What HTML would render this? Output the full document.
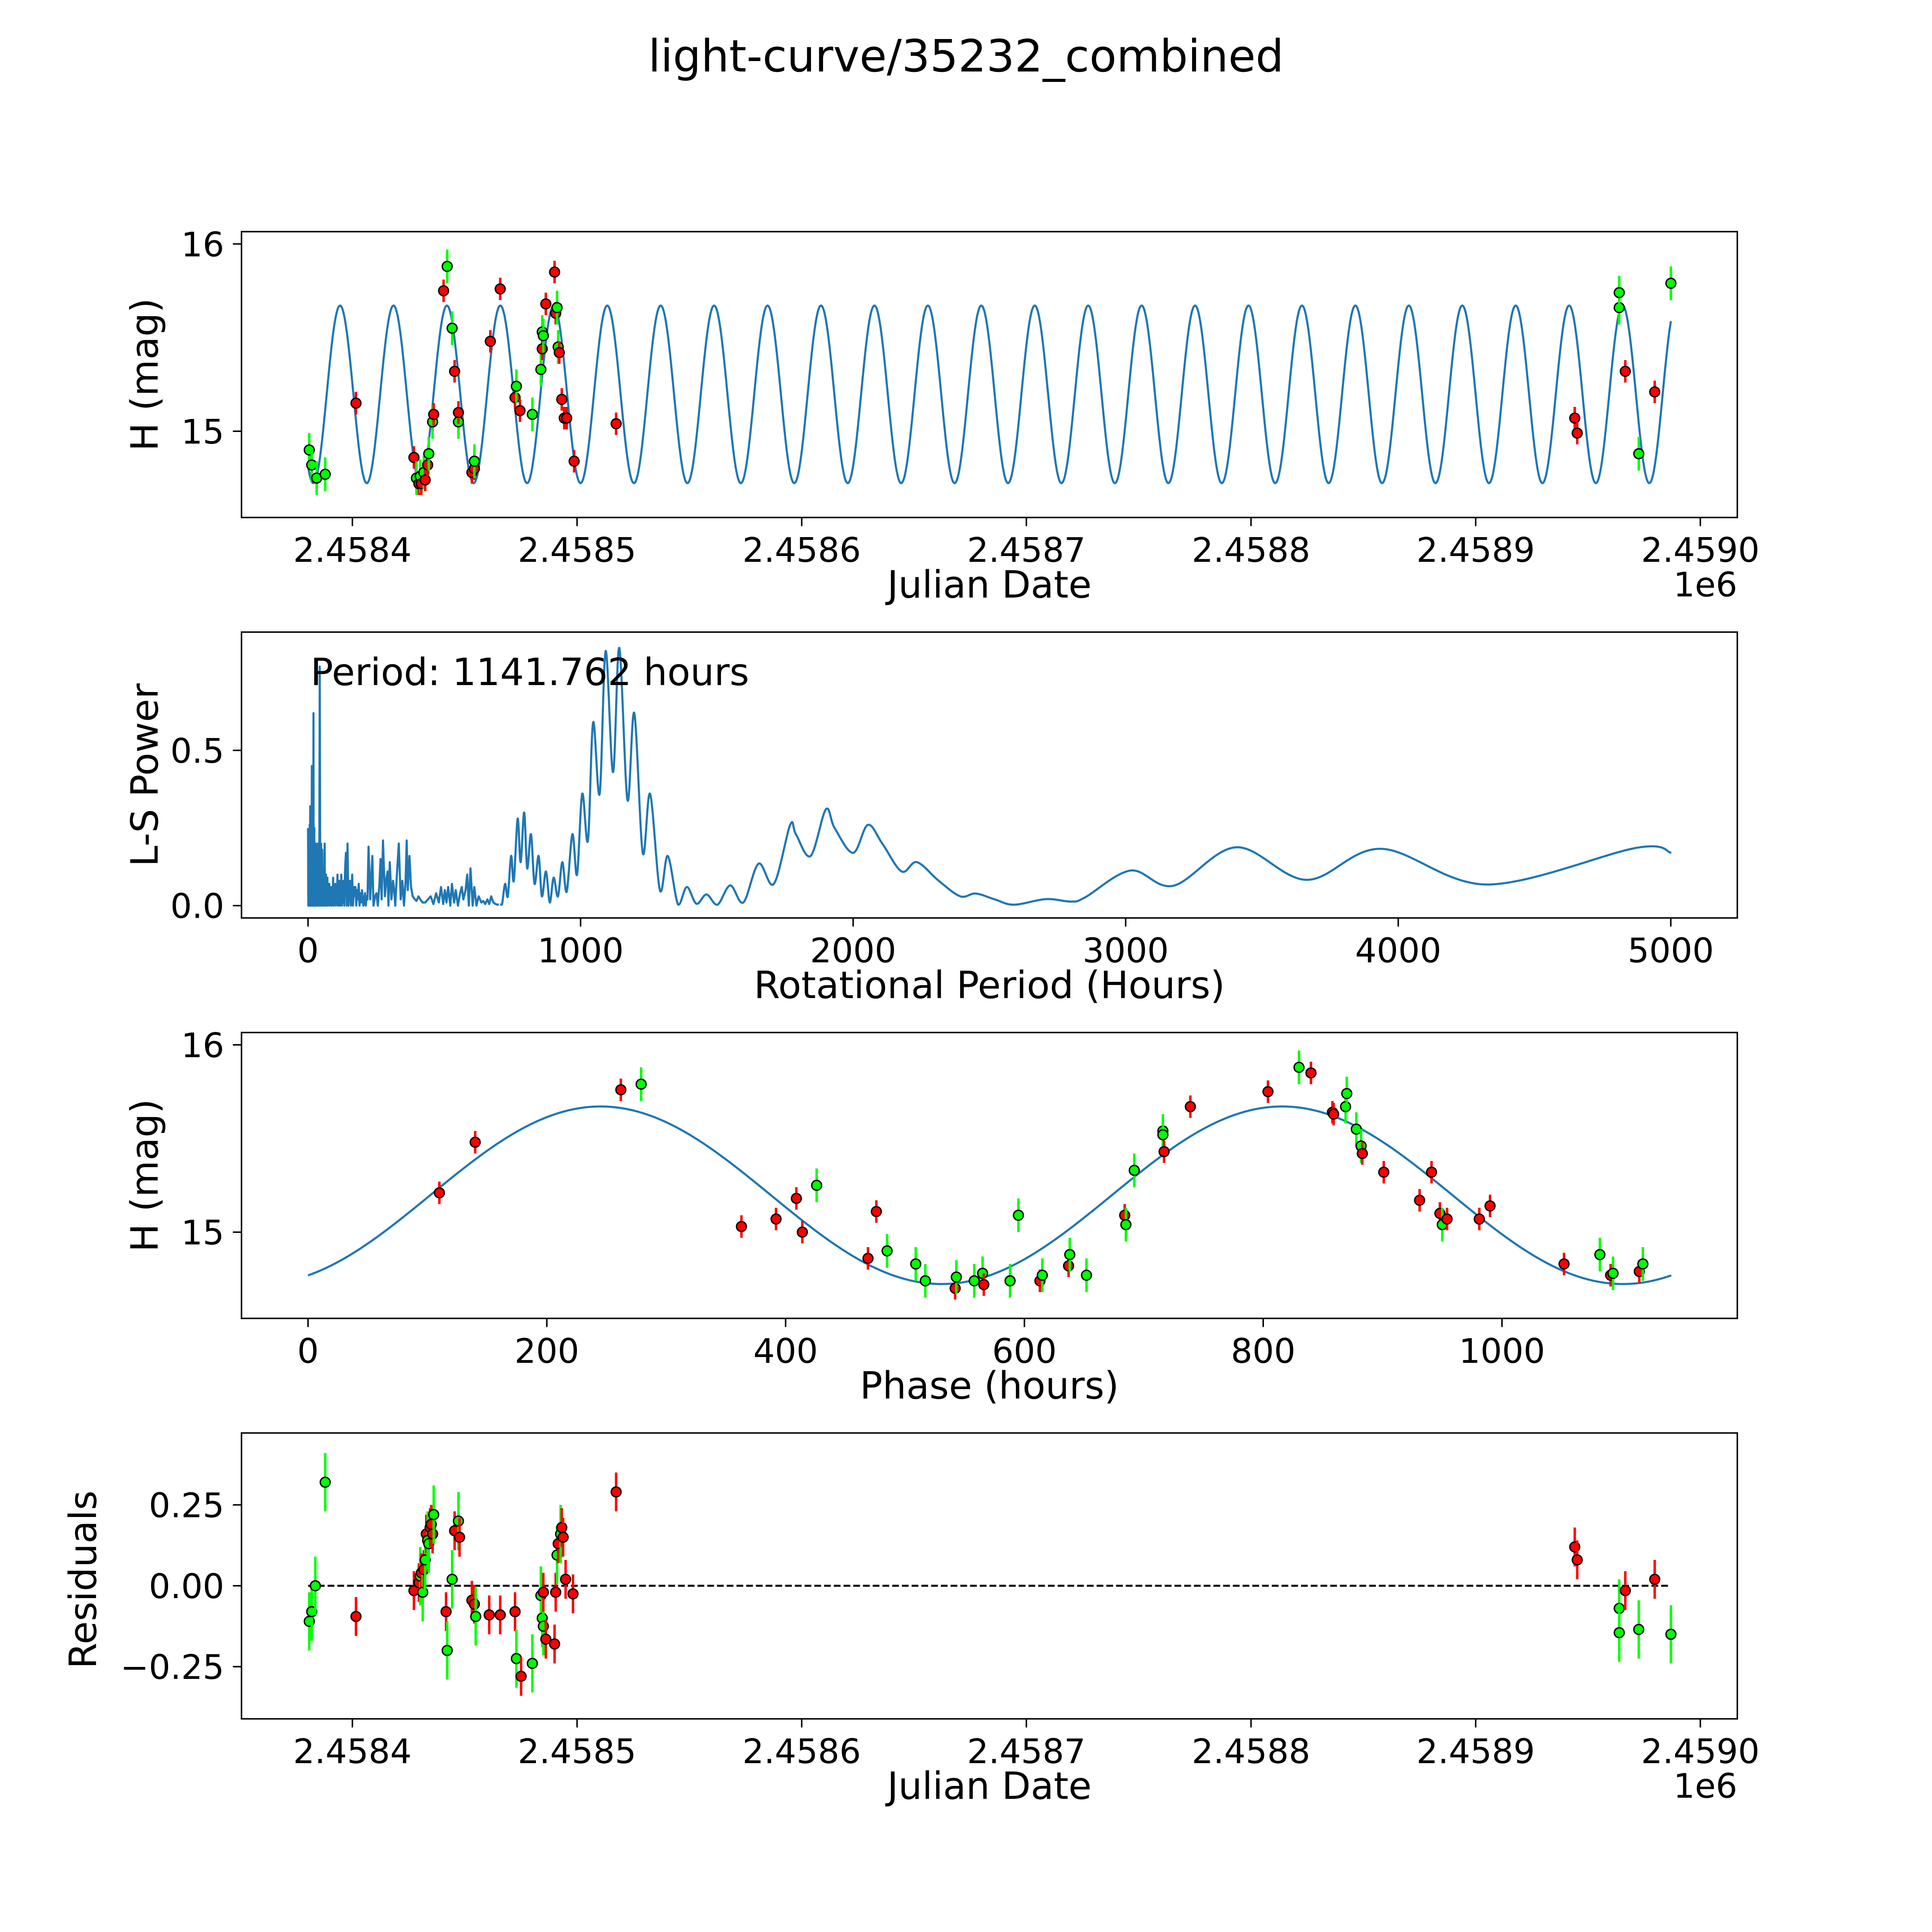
<!DOCTYPE html>
<html><head><meta charset="utf-8"><style>
html,body{margin:0;padding:0;background:#fff;overflow:hidden;width:100vw;height:100vh;}
svg{display:block;width:100vw;height:100vh;font-family:"DejaVu Sans","Liberation Sans",sans-serif;}
</style></head><body>
<svg id="fig" viewBox="0 0 1568 1568" preserveAspectRatio="none" xmlns="http://www.w3.org/2000/svg">
<rect x="0" y="0" width="1568" height="1568" fill="#fff"/>
<text x="784" y="58" font-size="36" text-anchor="middle">light-curve/35232_combined</text>
<g id="p1"></g>
<g id="p2"></g>
<g id="p3"></g>
<g id="p4"></g>
</svg>
<script>
// ---- data ----
const p1Day=[-19.2,-18.1,-15.9,-12.1,1.6,27.4,28.5,29.6,30.2,30.7,31.8,32.4,33.5,34.0,35.7,36.2,40.6,42.2,44.4,45.5,47.2,47.2,53.2,54.3,54.3,61.4,65.8,72.4,73.0,74.6,80.1,83.9,84.5,84.5,85.0,86.1,90.0,90.5,91.1,91.6,92.1,93.2,94.3,95.4,98.7,117.4,544.1,545.2,563.9,563.9,566.6,572.6,579.7,586.9];
const p1Mag=[14.90,14.82,14.75,14.77,15.15,14.86,14.75,14.72,14.76,14.72,14.78,14.74,14.82,14.88,15.05,15.09,15.75,15.88,15.55,15.32,15.05,15.10,14.78,14.80,14.84,15.48,15.76,15.18,15.24,15.11,15.09,15.33,15.53,15.44,15.51,15.68,15.85,15.63,15.66,15.45,15.42,15.17,15.07,15.07,14.84,15.04,15.07,14.99,15.66,15.74,15.32,14.88,15.21,15.79];
const p1Col=['g','g','g','g','r','r','g','r','g','r','g','r','r','g','g','r','r','g','g','r','g','r','r','r','g','r','r','r','g','r','g','g','g','r','g','r','r','r','g','g','r','r','r','r','r','r','r','r','g','g','r','g','r','g'];
const p3Ph=[110,140,262,279,363,392,409,414,426,469,476,485,509,517,542,543,558,565,566,588,595,613,615,637,638,652,684,685,692,716,716,717,739,804,830,840,858,859,869,870,878,882,883,901,931,941,948,950,954,981,990,1052,1082,1091,1093,1115,1118];
const p3Mag=[15.21,15.48,15.76,15.79,15.03,15.07,15.18,15.00,15.25,14.86,15.11,14.90,14.83,14.74,14.70,14.76,14.74,14.78,14.72,14.74,15.09,14.74,14.77,14.82,14.88,14.77,15.09,15.04,15.33,15.54,15.52,15.43,15.67,15.75,15.88,15.85,15.64,15.63,15.67,15.74,15.55,15.46,15.42,15.32,15.17,15.32,15.10,15.04,15.07,15.07,15.14,14.83,14.88,14.77,14.78,14.79,14.83];
const p3Col=['r','r','r','g','r','r','r','r','g','r','r','g','g','g','r','g','g','g','r','g','g','r','g','r','g','g','r','g','g','g','g','r','r','r','g','r','r','r','g','g','g','g','r','r','r','r','r','g','r','r','r','r','g','r','g','r','g'];
const p4Day=[-19.2,-18.1,-16.5,-12.1,1.6,27.4,29.6,30.2,30.7,31.3,31.8,32.4,32.9,33.5,34.0,34.6,35.1,35.7,36.2,41.7,42.2,44.4,45.5,47.2,47.7,53.2,54.3,54.9,60.9,65.8,72.4,73.0,75.1,80.1,83.9,84.5,85.0,85.0,86.1,90.0,90.5,91.1,91.6,92.7,93.2,93.8,94.9,98.2,117.4,544.1,545.2,563.9,563.9,566.6,572.6,579.7,586.9];
const p4Res=[-0.11,-0.08,0.00,0.32,-0.095,-0.015,0.01,0.03,0.04,-0.02,0.05,0.08,0.16,0.14,0.13,0.18,0.19,0.16,0.22,-0.08,-0.20,0.02,0.17,0.20,0.15,-0.045,-0.057,-0.095,-0.09,-0.09,-0.08,-0.225,-0.28,-0.24,-0.03,-0.10,-0.125,-0.02,-0.165,-0.18,-0.02,0.095,0.13,0.16,0.18,0.15,0.02,-0.025,0.29,0.12,0.08,-0.07,-0.145,-0.015,-0.135,0.02,-0.15];
const p4Col=['g','g','g','g','r','r','r','g','r','g','r','g','r','g','g','r','r','r','g','r','g','g','r','g','r','r','r','g','r','r','r','g','r','g','g','g','g','r','r','r','r','g','r','g','r','r','r','r','r','r','r','g','g','r','g','r','g'];
// spiky short-period region (drawn as straight segments)
const pgSpikeP=[0,1,1.5,2,3,3.5,4,5,5.5,6,7,8,8.5,9,10,11,11.5,12,13,14,14.5,15,16,17,17.5,18,19,20,20.5,21,22,23,24,25,26,27,28,29,30,31,32,33,34,35,36,37,38,39,40,41,43,45,46,47,48,49,50,51,52,53,54,55,56,57,58,59,61,62,64,65,66,67,69,70,71,73,75,76,78,80,82,83,85,87,89,90,92,94,96,98,100,102,104,106,108,110,112,114,115,117,119,121,122,124,126,128,130,133,136,139,142,145,148,151,154,157,160,162,165,168,171,174,177,180,183,186,189,192,195,198,203,206,209,212,215,218,222,228,232,236,240,246,251,256,262,266,270,275,282,288,292,295,300,306,312,316,320,326,333,340,346,352,358,362,366,372,378,384,392,398,405,412,420,430,440,450,460,470,480,488,496,502,508,514,522,528,536,542,550,558,564,570,578,584,590,596,604,610,618,626,636,643,650,658,665,672,680,688,695,700,705];
const pgSpikeV=[0.25,0,0.22,0.02,0.24,0,0.18,0.2,0,0.26,0.03,0.32,0,0.15,0.22,0.2,0,0.28,0.04,0.45,0,0.2,0.1,0.3,0,0.22,0.06,0.62,0,0.25,0.05,0.25,0,0.18,0.02,0.2,0,0.15,0.18,0,0.12,0.02,0.2,0,0.16,0.04,0.12,0,0.1,0.03,0.77,0,0.1,0.02,0.2,0,0.12,0.03,0.18,0,0.1,0.04,0.12,0,0.08,0.02,0.2,0,0.1,0.03,0.1,0,0.08,0.02,0.09,0,0.07,0.01,0.07,0,0.05,0.01,0.06,0,0.04,0.01,0.09,0,0.06,0.01,0.07,0,0.05,0.01,0.1,0,0.06,0.01,0.08,0,0.05,0.01,0.1,0,0.06,0.01,0.08,0,0.12,0.17,0,0.2,0,0.06,0.08,0,0.05,0.1,0,0.06,0.03,0.06,0,0.05,0.02,0.07,0,0.04,0.01,0.05,0,0.02,0.04,0,0.03,0.02,0.19,0.02,0.09,0.16,0,0.03,0.04,0,0.07,0.15,0.02,0.21,0.03,0.09,0.11,0,0.14,0.02,0.08,0.05,0,0.1,0.2,0.02,0.08,0,0.08,0.21,0.05,0.16,0.06,0.03,0.02,0.015,0.03,0.02,0.01,0.01,0.02,0.03,0.005,0.04,0.01,0.06,0.005,0.05,0.01,0.06,0,0.07,0.01,0.05,0,0.04,0.06,0.02,0.05,0.1,0,0.12,0,0.06,0,0.03,0.01,0.015,0.005,0.02,0.005,0.03,0.01,0.005,0.003,0.004];
// smooth long-period region
const pgSmoothP=[705,712,723,733,745,755,769,780,793,804,818,831,846,858,873,887,901,917,933,949,970,987,1006,1027,1046,1070,1092,1119,1142,1172,1197,1228,1255,1291,1320,1358,1390,1425,1462,1502,1549,1597,1653,1709,1769,1790,1844,1900,1932,2000,2054,2107,2178,2234,2314,2393,2450,2520,2590,2708,2801,2852,3018,3175,3406,3664,3937,4328,4873,5002];
const pgSmoothV=[0.004,0.005,0.07,0.03,0.16,0.08,0.28,0.14,0.30,0.12,0.23,0.07,0.16,0.03,0.11,0.01,0.09,0.03,0.14,0.045,0.23,0.10,0.36,0.21,0.59,0.36,0.82,0.43,0.83,0.34,0.62,0.17,0.36,0.05,0.16,0.003,0.06,0.006,0.036,0.003,0.065,0.01,0.135,0.07,0.26,0.23,0.16,0.31,0.25,0.17,0.26,0.20,0.11,0.14,0.08,0.03,0.039,0.02,0.003,0.021,0.013,0.027,0.113,0.064,0.188,0.083,0.183,0.068,0.186,0.170];
const p1Ticks=['2.4584','2.4585','2.4586','2.4587','2.4588','2.4589','2.4590'];
const p1TickDays=[0,100,200,300,400,500,600];
const p2Ticks=[0,1000,2000,3000,4000,5000];
const p3Ticks=[0,200,400,600,800,1000];
const magTicks=[16,15];
const pwTicks=[0.0,0.5];
const resTicks=[0.25,0.0,-0.25];
const fitPeriod=1141.762, fitMean=15.197, fitAmp=0.474, fitPhase=-1.126, fitT0Off=15.7;

// ---- scales ----
const x1=d=>286+d*1.8233, y1=m=>350-(m-15)*152;
const xP=p=>250+p*0.2212, yP=v=>735-v*252;
const x3=h=>250+h*0.969, y3=m=>1000-(m-15)*152;
const y4=r=>1287-r*262.6;
const NS='http://www.w3.org/2000/svg';
function mk(tag,attrs,parent){const e=document.createElementNS(NS,tag);for(const k in attrs)e.setAttribute(k,attrs[k]);parent.appendChild(e);return e;}
function model(ph){return fitMean+fitAmp*Math.sin(4*Math.PI*ph/fitPeriod+fitPhase);}
const colMap={r:'#ff0000',g:'#00ff00'};

function frame(g,top,name){
  const r=mk('rect',{x:196,y:top,width:1214,height:232,fill:'none',stroke:'#000','stroke-width':1.2},g);
  
  
}
function xtick(g,x,yb,label,name){
  mk('line',{x1:x,x2:x,y1:yb,y2:yb+7,stroke:'#000','stroke-width':1.2},g);
  const t=mk('text',{x:x,y:yb+36,'font-size':27.5,'text-anchor':'middle'},g);
  t.textContent=label;
  
  
}
function ytick(g,y,label,name){
  mk('line',{x1:189,x2:196,y1:y,y2:y,stroke:'#000','stroke-width':1.2},g);
  const t=mk('text',{x:182,y:y+10,'font-size':27.5,'text-anchor':'end'},g);
  t.textContent=label;
  
  
}
function label(g,x,y,txt,rot,name){
  const t=mk('text',{x:x,y:y,'font-size':30.5,'text-anchor':'middle'},g);
  if(rot)t.setAttribute('transform','rotate(-90 '+x+' '+y+')');
  t.textContent=txt;
  
  
}
function points(g,xs,ys,cols,xf,yf,errScale,name){
  for(let i=0;i<xs.length;i++){
    const c=colMap[cols[i]];const e=(cols[i]==='g'?0.09:0.06)*errScale;
    const X=xf(xs[i]),Y=yf(ys[i]);
    const ln=mk('line',{x1:X,x2:X,y1:Y-e,y2:Y+e,stroke:c,'stroke-width':2},g);
    
    
    const ci=mk('circle',{cx:X,cy:Y,r:4,fill:c,stroke:'#000','stroke-width':1.1},g);
    
    
  }
}

// ---- panel 1 ----
const g1=document.getElementById('p1');
frame(g1,188,'light-curve');
let d1='';for(let i=0;i<=3000;i++){const d=-19.7+i*(606.6/3000);const ph=((d+fitT0Off)*24)%fitPeriod;d1+=(i?'L':'M')+x1(d).toFixed(2)+' '+y1(model(ph)).toFixed(2);}
const c1=mk('path',{d:d1,fill:'none',stroke:'#1f77b4','stroke-width':1.7},g1);


points(g1,p1Day,p1Mag,p1Col,x1,y1,152,'observation');
p1TickDays.forEach((d,i)=>xtick(g1,x1(d),420,p1Ticks[i],'x-tick-label'));
magTicks.forEach(m=>ytick(g1,y1(m),String(m),'y-tick-label'));
label(g1,803,485,'Julian Date',false,'x-axis-title');
label(g1,128,304,'H (mag)',true,'y-axis-title');
{const t=mk('text',{x:1410,y:484,'font-size':27.5,'text-anchor':'end'},g1);t.textContent='1e6';}

// ---- panel 2 ----
const g2=document.getElementById('p2');
frame(g2,513,'periodogram');
let d2='';
const nSp=Math.min(pgSpikeP.length,pgSpikeV.length);
for(let i=0;i<nSp;i++){d2+=(i?'L':'M')+xP(pgSpikeP[i]).toFixed(2)+' '+yP(pgSpikeV[i]).toFixed(2);}
const spikePath=mk('path',{d:d2,fill:'none',stroke:'#1f77b4','stroke-width':1.7,'stroke-linejoin':'round'},g2);


// smooth part: Catmull-Rom spline through data points
const nSm=Math.min(pgSmoothP.length,pgSmoothV.length);
const sp=[];for(let i=0;i<nSm;i++)sp.push([xP(pgSmoothP[i]),yP(pgSmoothV[i])]);
let d2b='M'+sp[0][0].toFixed(2)+' '+sp[0][1].toFixed(2);
for(let i=0;i<sp.length-1;i++){
  const q0=sp[Math.max(0,i-1)],q1=sp[i],q2=sp[i+1],q3=sp[Math.min(sp.length-1,i+2)];
  const a1x=q1[0]+(q2[0]-q0[0])/6,a1y=Math.min(735,q1[1]+(q2[1]-q0[1])/6);
  const a2x=q2[0]-(q3[0]-q1[0])/6,a2y=Math.min(735,q2[1]-(q3[1]-q1[1])/6);
  d2b+='C'+a1x.toFixed(2)+' '+a1y.toFixed(2)+' '+a2x.toFixed(2)+' '+a2y.toFixed(2)+' '+q2[0].toFixed(2)+' '+q2[1].toFixed(2);
}
const c2=mk('path',{d:d2b,fill:'none',stroke:'#1f77b4','stroke-width':1.7,'stroke-linejoin':'round'},g2);


p2Ticks.forEach(p=>xtick(g2,xP(p),745,String(p),'x-tick-label'));
pwTicks.forEach(v=>ytick(g2,yP(v),v.toFixed(1),'y-tick-label'));
label(g2,803,810,'Rotational Period (Hours)',false,'x-axis-title');
label(g2,128,629,'L-S Power',true,'y-axis-title');
{const t=mk('text',{x:252,y:556,'font-size':30.5},g2);t.textContent='Period: 1141.762 hours';}

// ---- panel 3 ----
const g3=document.getElementById('p3');
frame(g3,838,'phase');
let d3='';for(let i=0;i<=1000;i++){const h=i*fitPeriod/1000;d3+=(i?'L':'M')+x3(h).toFixed(2)+' '+y3(model(h)).toFixed(2);}
const c3=mk('path',{d:d3,fill:'none',stroke:'#1f77b4','stroke-width':1.7},g3);


points(g3,p3Ph,p3Mag,p3Col,x3,y3,152,'phased-observation');
p3Ticks.forEach(h=>xtick(g3,x3(h),1070,String(h),'x-tick-label'));
magTicks.forEach(m=>ytick(g3,y3(m),String(m),'y-tick-label'));
label(g3,803,1135,'Phase (hours)',false,'x-axis-title');
label(g3,128,954,'H (mag)',true,'y-axis-title');

// ---- panel 4 ----
const g4=document.getElementById('p4');
frame(g4,1163,'residuals');
const zl=mk('line',{x1:x1(-19.7),x2:x1(586.9),y1:y4(0),y2:y4(0),stroke:'#000','stroke-width':1.6,'stroke-dasharray':'5.5 2.4'},g4);


points(g4,p4Day,p4Res,p4Col,x1,y4,262.6,'residual');
p1TickDays.forEach((d,i)=>xtick(g4,x1(d),1395,p1Ticks[i],'x-tick-label'));
resTicks.forEach(r=>ytick(g4,y4(r),(r<0?'\u2212':'')+Math.abs(r).toFixed(2),'y-tick-label'));
label(g4,803,1460,'Julian Date',false,'x-axis-title');
label(g4,78,1282,'Residuals',true,'y-axis-title');
{const t=mk('text',{x:1410,y:1459,'font-size':27.5,'text-anchor':'end'},g4);t.textContent='1e6';}
</script>
</body></html>
